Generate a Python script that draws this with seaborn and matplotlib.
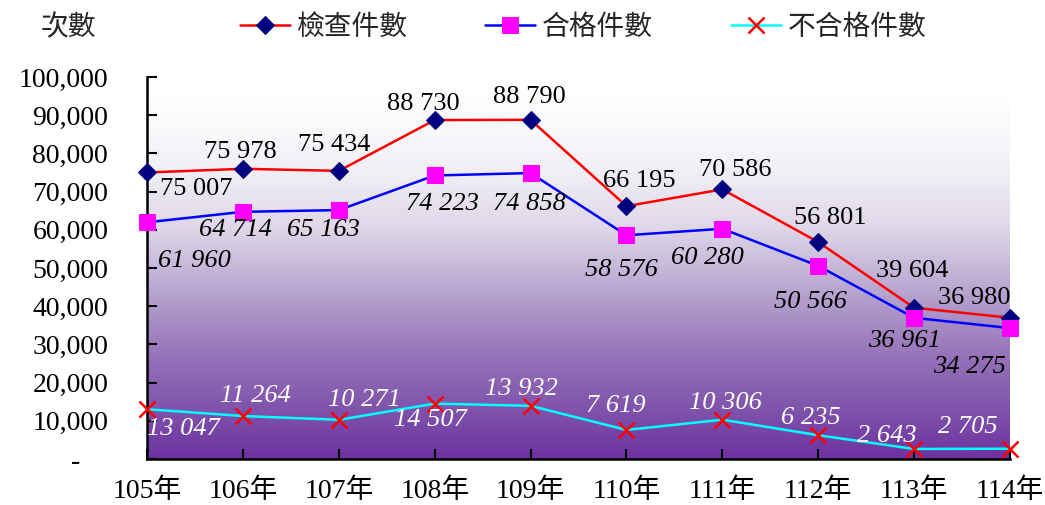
import numpy as np
import pandas as pd
import matplotlib
matplotlib.use("Agg")
import matplotlib.pyplot as plt
from matplotlib.colors import LinearSegmentedColormap
import seaborn as sns

# --- adatok ---
years = ["105年", "106年", "107年", "108年", "109年", "110年", "111年", "112年", "113年", "114年"]
inspected = [75007, 75978, 75434, 88730, 88790, 66195, 70586, 56801, 39604, 36980]
passed = [61960, 64714, 65163, 74223, 74858, 58576, 60280, 50566, 36961, 34275]
failed = [13047, 11264, 10271, 14507, 13932, 7619, 10306, 6235, 2643, 2705]
y_ticks = [0, 10000, 20000, 30000, 40000, 50000, 60000, 70000, 80000, 90000, 100000]

# címkék eltolása (pixel) a pontokhoz képest
off_insp = [(49, -17), (-3, 17), (-5, 26), (-11, 16), (-1, 23), (13, 25), (13, 19), (12, 24), (-2, 37), (-36, 20)]
off_pass = [(47, -39), (-7, -18), (-15, -20), (8, -29), (-1, -31), (-5, -35), (-15, -29), (-8, -36), (-10, -23), (-41, -39)]
off_fail = [(36, -20), (13, 20), (26, 20), (-4, -16), (-9, 17), (-11, 24), (3, 17), (-7, 17), (-27, 13), (-42, 22)]

sns.set_theme(style="white")
plt.rcParams["font.family"] = ["Liberation Serif", "Noto Sans CJK TC", "DejaVu Sans"]

df = pd.DataFrame({"x": np.arange(len(years)), "insp": inspected, "pass": passed, "fail": failed})

fig = plt.figure(figsize=(10.45, 5.05), dpi=100)
ax = fig.add_axes([0.1407, 0.091, 0.8258, 0.7565])

# háttér színátmenet (fehér -> lila)
stops = [(0.0, (1.0, 1.0, 1.0)),
         (0.21, (242 / 255, 240 / 255, 246 / 255)),
         (0.37, (222 / 255, 215 / 255, 232 / 255)),
         (0.45, (205 / 255, 192 / 255, 222 / 255)),
         (0.56, (180 / 255, 160 / 255, 205 / 255)),
         (0.72, (150 / 255, 115 / 255, 185 / 255)),
         (0.88, (125 / 255, 80 / 255, 170 / 255)),
         (1.0, (110 / 255, 50 / 255, 160 / 255))]
cmap = LinearSegmentedColormap.from_list("bg", stops)
grad = np.linspace(0, 1, 256).reshape(-1, 1)
ax.imshow(grad, cmap=cmap, extent=[0, 9, 0, 96000], aspect="auto", zorder=0)

sns.lineplot(data=df, x="x", y="insp", ax=ax, color="#FF0000", lw=1.8, marker="D", markersize=9,
             markerfacecolor="#000080", markeredgecolor="#000080", label="檢查件數", clip_on=False, zorder=3)
sns.lineplot(data=df, x="x", y="pass", ax=ax, color="#0000FF", lw=1.8, marker="s", markersize=11,
             markerfacecolor="#FF00FF", markeredgecolor="#FF00FF", label="合格件數", clip_on=False, zorder=3)
sns.lineplot(data=df, x="x", y="fail", ax=ax, color="#00FFFF", lw=1.8, marker="x", markersize=11,
             markeredgecolor="#FF0000", markeredgewidth=1.8, label="不合格件數", clip_on=False, zorder=3)

def fmt(v):
    return f"{v:,}".replace(",", " ")

for i in range(len(years)):
    ax.annotate(fmt(inspected[i]), (i, inspected[i]), xytext=off_insp[i], textcoords="offset pixels",
                ha="center", va="center", fontsize=19, color="black", zorder=4)
    ax.annotate(fmt(passed[i]), (i, passed[i]), xytext=off_pass[i], textcoords="offset pixels",
                ha="center", va="center", fontsize=19, color="black", style="italic", zorder=4)
    ax.annotate(fmt(failed[i]), (i, failed[i]), xytext=off_fail[i], textcoords="offset pixels",
                ha="center", va="center", fontsize=19, color="white", style="italic", zorder=4)

ax.set_xlim(0, 9)
ax.set_ylim(0, 100000)
ax.set_xticks(range(len(years)))
ax.set_xticklabels(years, fontsize=20)
ax.set_yticks(y_ticks)
ax.set_yticklabels(["-    "] + [f"{v:,}" for v in y_ticks[1:]], fontsize=20)
ax.set_xlabel("")
ax.set_ylabel("")
ax.tick_params(axis="y", direction="in", length=7, width=1.5, pad=28, left=True, colors="black")
ax.tick_params(axis="x", direction="in", length=7, width=1.5, pad=14, bottom=True, colors="black")
for s in ["top", "right"]:
    ax.spines[s].set_visible(False)
for s in ["left", "bottom"]:
    ax.spines[s].set_color("black")
    ax.spines[s].set_linewidth(1.8)

ax.legend_.remove()
h, l = ax.get_legend_handles_labels()
fig.legend(h, l, loc="center", bbox_to_anchor=(0.558, 0.945), ncol=3, frameon=False, fontsize=20,
           handlelength=1.8, handletextpad=0.25, columnspacing=2.8)
fig.text(68 / 1045, 1 - 28 / 505, "次數", fontsize=20, ha="center", va="center")

fig.savefig("out.png", dpi=100)
plt.close()
